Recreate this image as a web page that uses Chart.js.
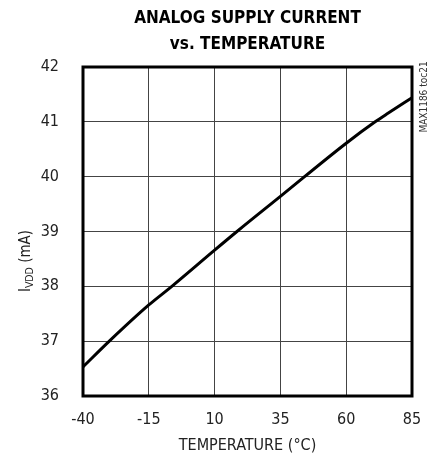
<!DOCTYPE html>
<html>
<head>
<meta charset="utf-8">
<script src="https://cdn.jsdelivr.net/npm/chart.js@4"></script>
<style>
html,body{margin:0;padding:0;background:#fff;}
#wrap{width:433px;height:458px;}
</style>
</head>
<body>
<div id="wrap"><canvas id="c" width="433" height="458"></canvas></div>
<script>
const titleLines = ["ANALOG SUPPLY CURRENT", "vs. TEMPERATURE"];
const xTitle = "TEMPERATURE (°C)";
const yTitleMain = "I";
const yTitleSub = "VDD";
const yTitleRest = " (mA)";
const noteText = "MAX1186 toc21";
const xTicks = [-40, -15, 10, 35, 60, 85];
const yTicks = [36, 37, 38, 39, 40, 41, 42];
const temperature = [-40, -30, -15, -6.25, 10, 18.5, 35, 60, 71, 76, 85];
const supplyCurrent = [36.53, 37.0, 37.66, 38.0, 38.66, 39.0, 39.64, 40.61, 41.0, 41.16, 41.44];

const NARROW = "'Liberation Sans Narrow', 'DejaVu Sans Condensed', 'Roboto', sans-serif";

const framePlugin = {
  id: 'frame',
  afterDatasetsDraw(chart) {
    const {ctx, chartArea: a} = chart;
    ctx.save();
    ctx.strokeStyle = '#000';
    ctx.lineWidth = 3;
    ctx.strokeRect(a.left, a.top, a.right - a.left, a.bottom - a.top);
    ctx.restore();
  },
  afterDraw(chart) {
    const {ctx, chartArea: a} = chart;
    const cx = (a.left + a.right) / 2;
    ctx.save();
    ctx.fillStyle = '#000';
    ctx.font = "bold 17px " + NARROW;
    ctx.textAlign = 'center';
    ctx.textBaseline = 'alphabetic';
    ctx.fillText(titleLines[0], cx, 23);
    ctx.fillText(titleLines[1], cx, 48.5);
    ctx.restore();
    ctx.save();
    ctx.translate(25, 261);
    ctx.rotate(-Math.PI / 2);
    ctx.fillStyle = '#222';
    ctx.textBaseline = 'alphabetic';
    ctx.font = "15px " + NARROW;
    const wI = ctx.measureText(yTitleMain).width;
    ctx.font = "10.5px " + NARROW;
    const wS = ctx.measureText(yTitleSub).width;
    ctx.font = "15px " + NARROW;
    const wR = ctx.measureText(yTitleRest).width;
    let x = -(wI + wS + wR) / 2;
    ctx.textAlign = 'left';
    ctx.fillText(yTitleMain, x, 5); x += wI;
    ctx.font = "10.5px " + NARROW;
    ctx.fillText(yTitleSub, x, 8); x += wS;
    ctx.font = "15px " + NARROW;
    ctx.fillText(yTitleRest, x, 5);
    ctx.restore();
    ctx.save();
    ctx.translate(424, 97);
    ctx.rotate(-Math.PI / 2);
    ctx.fillStyle = '#333';
    ctx.font = "10px " + NARROW;
    ctx.textAlign = 'center';
    ctx.textBaseline = 'middle';
    ctx.fillText(noteText, 0, 0);
    ctx.restore();
  }
};

new Chart(document.getElementById('c'), {
  type: 'line',
  data: {
    datasets: [{
      data: temperature.map((t, i) => ({x: t, y: supplyCurrent[i]})),
      borderColor: '#000',
      borderWidth: 3,
      pointRadius: 0,
      cubicInterpolationMode: 'monotone',
      fill: false
    }]
  },
  options: {
    responsive: false,
    animation: false,
    devicePixelRatio: 1,
    layout: {padding: {left: 0, right: 21, top: 67, bottom: 0}},
    plugins: {
      legend: {display: false},
      tooltip: {enabled: false},
      title: {display: false}
    },
    scales: {
      x: {
        type: 'linear',
        min: xTicks[0],
        max: xTicks[xTicks.length - 1],
        afterBuildTicks(s) { s.ticks = xTicks.map(v => ({value: v})); },
        afterFit(s) { s.height = 62; s.paddingLeft = 0; s.paddingRight = 0; },
        ticks: {color: '#222', font: {family: NARROW, size: 16}, padding: 14, maxRotation: 0},
        grid: {color: '#444', lineWidth: 1, drawTicks: false},
        border: {display: false},
        title: {display: true, text: xTitle, color: '#222', font: {family: NARROW, size: 16}, padding: {top: 2, bottom: 3}}
      },
      y: {
        type: 'linear',
        min: yTicks[0],
        max: yTicks[yTicks.length - 1],
        afterBuildTicks(s) { s.ticks = yTicks.map(v => ({value: v})); },
        afterFit(s) { s.width = 83; s.paddingTop = 0; s.paddingBottom = 0; },
        ticks: {color: '#222', font: {family: NARROW, size: 16}, padding: 24},
        grid: {color: '#444', lineWidth: 1, drawTicks: false},
        border: {display: false}
      }
    }
  },
  plugins: [framePlugin]
});
</script>
</body>
</html>
